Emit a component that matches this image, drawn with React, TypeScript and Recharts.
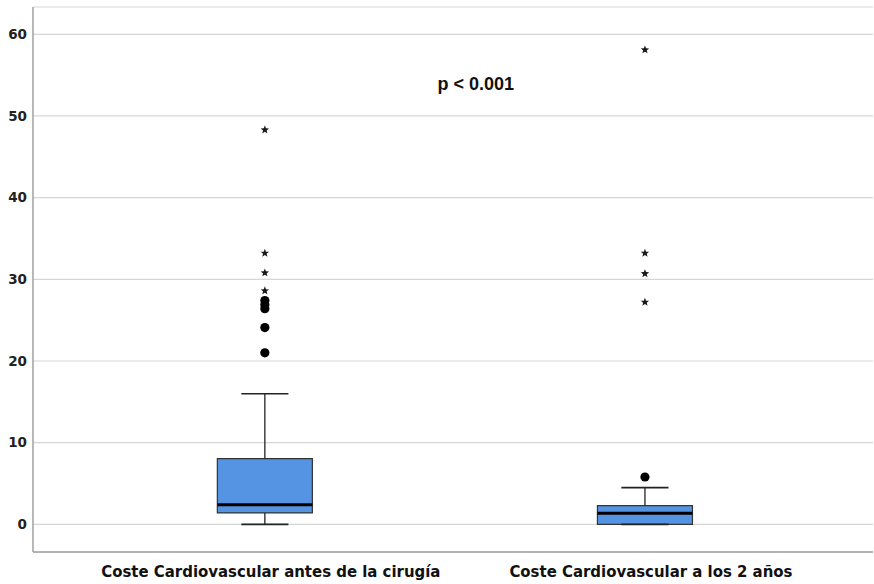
import React from 'react'
import {
  ComposedChart,
  XAxis,
  YAxis,
  CartesianGrid,
  ReferenceArea,
  ReferenceLine,
  ReferenceDot,
  Scatter,
  Label
} from 'recharts'

// groups shown on the x axis
const categories = ['Coste Cardiovascular antes de la cirugía', 'Coste Cardiovascular a los 2 años']
const positions = [1, 2]

// box statistics per group: min, q1, median, q3, max (whisker ends)
const mins = [0, 0]
const q1s = [1.4, 0]
const medians = [2.4, 1.35]
const q3s = [8.05, 2.3]
const maxs = [16.0, 4.5]

// outliers (circles) and extreme values (stars)
const outliersBefore = [21.0, 24.1, 26.4, 26.9, 27.4]
const outliersAfter = [5.8]
const extremesBefore = [28.6, 30.8, 33.2, 48.3]
const extremesAfter = [27.2, 30.7, 33.2, 58.1]

const yTicks = [0, 10, 20, 30, 40, 50, 60]

const BOX_HALF = 0.125
const CAP_HALF = 0.062

const circlePoints = [
  ...outliersBefore.map(v => ({ x: positions[0], y: v })),
  ...outliersAfter.map(v => ({ x: positions[1], y: v }))
]
const starPoints = [
  ...extremesBefore.map(v => ({ x: positions[0], y: v })),
  ...extremesAfter.map(v => ({ x: positions[1], y: v }))
]

const CircleShape = (props: any) => {
  const { cx, cy } = props
  return <circle cx={cx} cy={cy} r={4.6} fill="#000" />
}

const StarShape = (props: any) => {
  const { cx, cy } = props
  const pts: string[] = []
  for (let i = 0; i < 10; i++) {
    const r = i % 2 === 0 ? 4.4 : 1.9
    const a = -Math.PI / 2 + (i * Math.PI) / 5
    pts.push(`${cx + r * Math.cos(a)},${cy + r * Math.sin(a)}`)
  }
  return <polygon points={pts.join(' ')} fill="#1a1a1a" />
}

const XTick = (props: any) => {
  const { x, y, payload } = props
  const idx = positions.indexOf(payload.value)
  return (
    <text
      x={x + 6}
      y={y + 17}
      textAnchor="middle"
      fontFamily="'Liberation Sans Narrow', 'DejaVu Sans Condensed', sans-serif"
      fontWeight="bold"
      fontSize={16.6}
      fill="#111"
    >
      {categories[idx]}
    </text>
  )
}

export default function App() {
  return (
    <div style={{ position: 'absolute', left: 0, top: 0, background: '#fff' }}>
      <ComposedChart width={874} height={584} margin={{ top: 7, right: 1, bottom: 0, left: 0 }}>
        <CartesianGrid vertical={false} stroke="#d6d6d6" strokeWidth={1.2} />
        <XAxis
          type="number"
          dataKey="x"
          domain={[0.39, 2.6]}
          ticks={positions}
          tick={<XTick />}
          tickLine={false}
          axisLine={{ stroke: '#a0a0a0', strokeWidth: 1.5 }}
          height={32}
          allowDataOverflow
        />
        <YAxis
          type="number"
          dataKey="y"
          domain={[-3.38, 63.34]}
          ticks={yTicks}
          width={33}
          tickLine={false}
          tickSize={0}
          tickMargin={6}
          axisLine={{ stroke: '#a0a0a0', strokeWidth: 1.5 }}
          tick={{ fontFamily: "'DejaVu Sans', sans-serif", fontWeight: 'bold', fontSize: 13.5, fill: '#222' }}
          allowDataOverflow
        />

        {positions.map((p, i) => (
          <ReferenceLine
            key={`wl${i}`}
            segment={[{ x: p, y: mins[i] }, { x: p, y: q1s[i] }]}
            stroke="#222"
            strokeWidth={1.3}
          />
        ))}
        {positions.map((p, i) => (
          <ReferenceLine
            key={`wu${i}`}
            segment={[{ x: p, y: q3s[i] }, { x: p, y: maxs[i] }]}
            stroke="#222"
            strokeWidth={1.3}
          />
        ))}
        {positions.map((p, i) => (
          <ReferenceLine
            key={`cl${i}`}
            segment={[{ x: p - CAP_HALF, y: mins[i] }, { x: p + CAP_HALF, y: mins[i] }]}
            stroke="#222"
            strokeWidth={1.6}
          />
        ))}
        {positions.map((p, i) => (
          <ReferenceLine
            key={`cu${i}`}
            segment={[{ x: p - CAP_HALF, y: maxs[i] }, { x: p + CAP_HALF, y: maxs[i] }]}
            stroke="#222"
            strokeWidth={1.6}
          />
        ))}
        {positions.map((p, i) => (
          <ReferenceArea
            key={`box${i}`}
            x1={p - BOX_HALF}
            x2={p + BOX_HALF}
            y1={q1s[i]}
            y2={q3s[i]}
            fill="#5594e2"
            fillOpacity={1}
            stroke="#333"
            strokeWidth={1.2}
          />
        ))}
        {positions.map((p, i) => (
          <ReferenceLine
            key={`med${i}`}
            segment={[{ x: p - BOX_HALF, y: medians[i] }, { x: p + BOX_HALF, y: medians[i] }]}
            stroke="#000"
            strokeWidth={3}
          />
        ))}

        <Scatter data={circlePoints} dataKey="y" shape={<CircleShape />} isAnimationActive={false} />
        <Scatter data={starPoints} dataKey="y" shape={<StarShape />} isAnimationActive={false} />

        <ReferenceDot x={1.555} y={54.0} r={0} fill="none" stroke="none">
          <Label
            value="p < 0.001"
            position="center"
            fontFamily="'Liberation Sans', sans-serif"
            fontWeight="bold"
            fontSize={18}
            fill="#111"
          />
        </ReferenceDot>
      </ComposedChart>
    </div>
  )
}
